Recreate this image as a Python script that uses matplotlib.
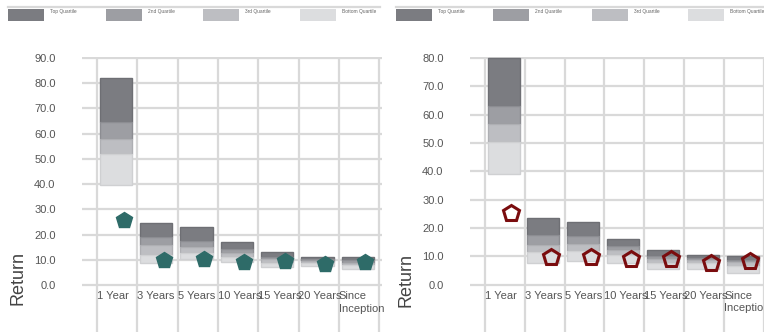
import matplotlib
matplotlib.use("Agg")
import matplotlib.pyplot as plt
from matplotlib.patches import Rectangle
from matplotlib.lines import Line2D

plt.rcParams['font.family'] = ['DejaVu Sans Condensed', 'Liberation Sans']

categories = ["1 Year", "3 Years", "5 Years", "10 Years", "15 Years", "20 Years", "Since\nInception"]
quartile_names = ["Top Quartile", "2nd Quartile", "3rd Quartile", "Bottom Quartile"]

# left panel: quartile boundaries (top -> bottom) and fund return
top_l = [82.0, 24.7, 23.1, 16.9, 13.0, 11.2, 11.2]
q1_l = [64.5, 19.2, 17.4, 14.3, 11.2, 10.2, 9.9]
med_l = [58.0, 15.9, 15.2, 12.8, 10.3, 9.5, 8.8]
q3_l = [51.8, 11.9, 12.8, 11.2, 8.8, 8.6, 7.9]
bot_l = [39.7, 8.6, 10.2, 9.2, 7.0, 7.5, 6.2]
fund_l = [25.8, 9.9, 10.2, 9.3, 9.4, 8.3, 9.2]

# right panel
top_r = [80.0, 23.6, 22.1, 16.3, 12.2, 10.6, 10.0]
q1_r = [63.2, 17.7, 17.1, 13.6, 10.3, 9.5, 8.9]
med_r = [56.7, 14.2, 14.5, 12.4, 9.2, 8.6, 7.9]
q3_r = [50.2, 11.5, 12.1, 10.6, 7.7, 7.7, 6.7]
bot_r = [39.0, 7.7, 8.3, 7.7, 5.6, 5.6, 4.1]
fund_r = [25.4, 9.7, 9.7, 9.1, 9.1, 7.7, 8.3]

yticks_l = [0, 10, 20, 30, 40, 50, 60, 70, 80, 90]
yticks_r = [0, 10, 20, 30, 40, 50, 60, 70, 80]

fills = ["#7b7c81", "#9d9ea3", "#bdbec2", "#dcdddf"]
edges = ["#6e6f74", "#8c8d92", "#aeafb3", "#cfd0d2"]
grid_c = "#d9d9d9"
text_c = "#555555"

W, H = 764, 332
fig = plt.figure(figsize=(W / 100, H / 100), dpi=100)


def panel(rect, xlim, ylim, yticks, top, q1, med, q3, bot, fund, mstyle):
    ax = fig.add_axes(rect)
    ax.set_xlim(*xlim)
    ax.set_ylim(*ylim)
    x = list(range(len(categories)))
    bounds = [top, q1, med, q3, bot]
    for k in range(4):
        h = [a - b for a, b in zip(bounds[k], bounds[k + 1])]
        ax.bar([i + 0.07 for i in x], h, bottom=bounds[k + 1], width=0.8, align='edge',
               color=fills[k], edgecolor=edges[k], linewidth=1, zorder=3)
    ax.plot([i + 0.66 for i in x], fund, linestyle='none', zorder=4, **mstyle)
    ax.set_yticks(yticks)
    ax.set_yticklabels([f"{v:.1f}" for v in yticks])
    ax.set_xticks(range(len(categories) + 1))
    ax.set_xticklabels([])
    ax.tick_params(length=0, labelsize=8, labelcolor=text_c, pad=19)
    ax.grid(True, color=grid_c, linewidth=1.6, zorder=0)
    ax.set_axisbelow(True)
    for s in ax.spines.values():
        s.set_visible(False)
    for i, c in enumerate(categories):
        ax.annotate(c, (i, 0), xytext=(0, -4.5), textcoords='offset points',
                    ha='left', va='top', fontsize=8, color=text_c, linespacing=1.3,
                    annotation_clip=False)
    return ax


# left axes: 0 at y=285px, 25.22 px per 10
sl = 2.522
panel([82 / W, 0, 300 / W, 275 / H], (-15 / 40.3, 285 / 40.3),
      (-(H - 285) / sl, 90 + 1 / sl), yticks_l,
      top_l, q1_l, med_l, q3_l, bot_l, fund_l,
      dict(marker='p', markersize=12, color='#2e6b68', markeredgecolor='#2e6b68'))

sr = 2.825
panel([470 / W, 0, 294 / W, 275 / H], (-15 / 40.4, 279 / 40.4),
      (-(H - 285) / sr, 80 + 1 / sr), yticks_r,
      top_r, q1_r, med_r, q3_r, bot_r, fund_r,
      dict(marker='p', markersize=12, markerfacecolor='none',
           markeredgecolor='#7a0c0e', markeredgewidth=2.2))

fig.text(18 / W, 1 - 278 / H, "Return", rotation=90, ha='center', va='center',
         fontsize=13, color='#444444')
fig.text(406 / W, 1 - 280 / H, "Return", rotation=90, ha='center', va='center',
         fontsize=13, color='#444444')

# legends across the top
for x0, x1, sw in [(8, 380, [8, 106, 203, 300]), (396, 764, [396, 493, 592, 688])]:
    fig.add_artist(Line2D([x0 / W, x1 / W], [1 - 6.5 / H, 1 - 6.5 / H],
                          color="#d9d9d9", linewidth=1.6))
    for k, sx in enumerate(sw):
        fig.add_artist(Rectangle((sx / W, 1 - 21 / H), 36 / W, 12 / H,
                                 facecolor=fills[k], edgecolor='none'))
        fig.text((sx + 42) / W, 1 - 12 / H, quartile_names[k], fontsize=3.5,
                 color='#666666', ha='left', va='center')

fig.savefig("out.png", dpi=100)
